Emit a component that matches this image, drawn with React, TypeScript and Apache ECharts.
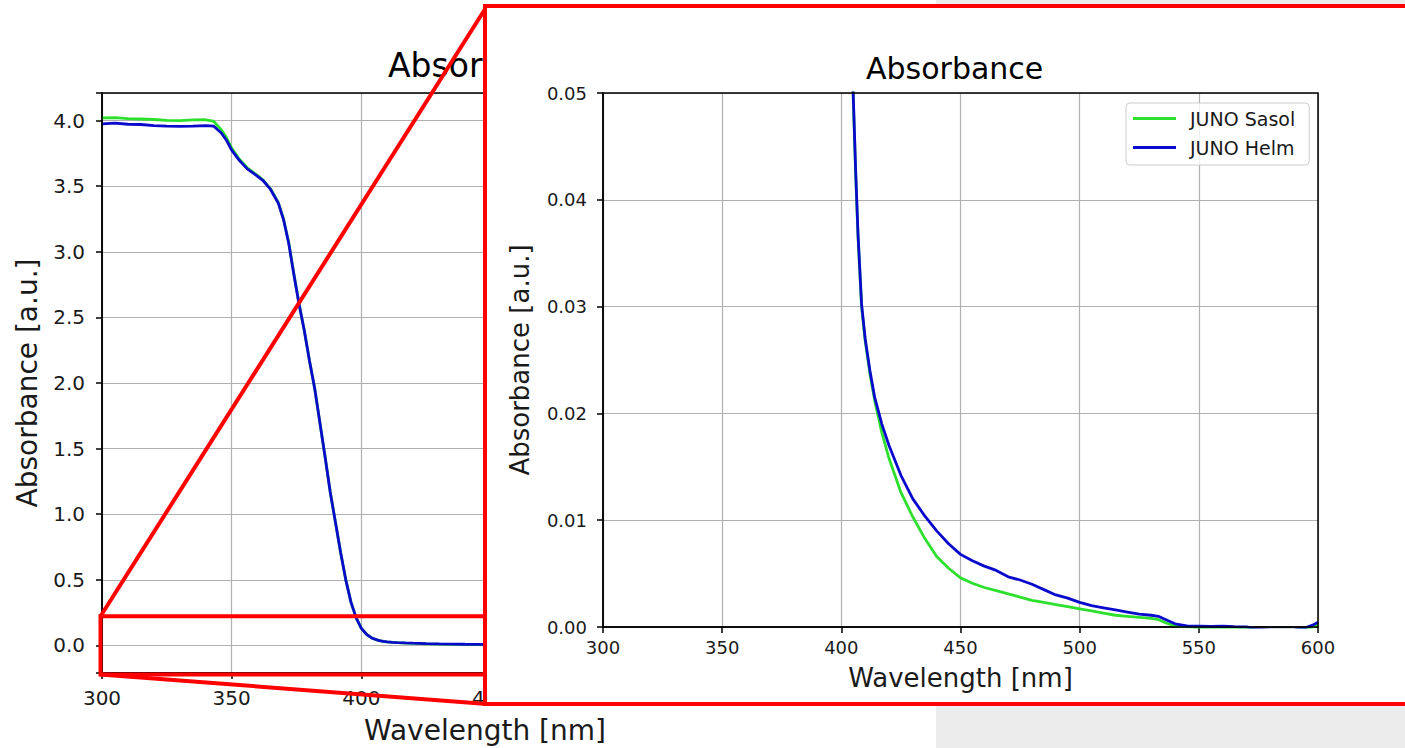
import React, { useEffect, useRef } from 'react';
import * as echarts from 'echarts';

// Wavelength grid [nm]
const wavelengths = [
  300, 305, 310, 315, 320, 325, 330, 335, 340, 343, 346, 348, 350, 353, 356, 359, 362, 365, 368, 370,
  372, 374, 376, 378, 380, 382, 384, 386, 388, 390, 392, 394, 396, 398, 400, 402, 404, 405, 406, 407,
  408.5, 410, 412, 414, 417, 420, 425, 430, 435, 440, 445, 450, 455, 460, 465, 470, 475, 480, 485, 490,
  495, 500, 505, 510, 515, 520, 525, 530, 533, 536, 540, 545, 550, 555, 560, 565, 570, 575, 580, 590,
  595, 598, 600,
];

// Absorbance [a.u.] - JUNO Sasol
const sasol = [
  4.02, 4.022, 4.015, 4.012, 4.008, 4.002, 4.0, 4.005, 4.006, 3.995, 3.93, 3.87, 3.79, 3.705, 3.64, 3.595, 3.55, 3.48, 3.375, 3.25,
  3.07, 2.83, 2.6, 2.4, 2.17, 1.96, 1.7, 1.44, 1.17, 0.94, 0.71, 0.5, 0.33, 0.21, 0.13, 0.085, 0.057, 0.0495, 0.0425, 0.0365,
  0.03, 0.0268, 0.0237, 0.0212, 0.0182, 0.0158, 0.0126, 0.0103, 0.0083, 0.0066, 0.0055, 0.0046, 0.0041, 0.0037, 0.0034, 0.0031, 0.0028, 0.0025, 0.0023, 0.0021,
  0.0019, 0.0017, 0.0015, 0.0013, 0.0011, 0.001, 0.0009, 0.0008, 0.0007, 0.0004, 0.0001, 0.00002, -0.00005, -0.0001, -0.0001, -0.0001, -0.0002, -0.0003, -0.0003, -0.0003,
  -0.0002, 0.0, 0.0002,
];

// Absorbance [a.u.] - JUNO Helm
const helm = [
  3.975, 3.98, 3.972, 3.97, 3.962, 3.958, 3.956, 3.958, 3.962, 3.958, 3.905, 3.85, 3.775, 3.695, 3.632, 3.589, 3.545, 3.475, 3.37, 3.245,
  3.065, 2.825, 2.6, 2.4, 2.17, 1.96, 1.7, 1.44, 1.17, 0.94, 0.71, 0.5, 0.33, 0.21, 0.13, 0.085, 0.057, 0.0498, 0.0428, 0.0368,
  0.0302, 0.027, 0.024, 0.0215, 0.019, 0.017, 0.0142, 0.012, 0.0104, 0.009, 0.0078, 0.0068, 0.0062, 0.0057, 0.0053, 0.0047, 0.0044, 0.004, 0.0035, 0.003,
  0.0027, 0.0023, 0.002, 0.0018, 0.0016, 0.0014, 0.0012, 0.0011, 0.001, 0.0007, 0.0003, 0.0001, 0.00008, 0.00005, 0.00007, 0.00004, 0.00002, -0.0002, -0.0003, -0.0003,
  -0.00005, 0.0002, 0.00045,
];

const seriesNames = ['JUNO Sasol', 'JUNO Helm'];
const titleText = 'Absorbance';
const xName = 'Wavelength [nm]';
const yName = 'Absorbance [a.u.]';

const FONT = 'DejaVu Sans';
const GREEN = '#2ee02e';
const BLUE = '#0a0acd';
const GRIDC = '#b0b0b0';
const TXT = '#1a1a1a';

export default function App() {
  const ref = useRef<HTMLDivElement>(null);

  useEffect(() => {
    if (!ref.current) return;
    const chart = echarts.init(ref.current, null, { renderer: 'svg' });
    const sasolPts = wavelengths.map((w, i) => [w, sasol[i]]);
    const helmPts = wavelengths.map((w, i) => [w, helm[i]]);

    const axisCommon = (z: number) => ({
      z,
      axisLine: { show: true, onZero: false, lineStyle: { color: '#000', width: 1.5 } },
      axisTick: { show: true, inside: false, length: 6, lineStyle: { color: '#000', width: 1.5 } },
      splitLine: { show: true, lineStyle: { color: GRIDC, width: 1.2 } },
    });

    chart.setOption({
      animation: false,
      backgroundColor: '#ffffff',
      title: [
        {
          text: titleText,
          left: 388,
          top: 49,
          padding: 0,
          z: 5,
          textStyle: { fontSize: 33, fontWeight: 'normal', fontFamily: FONT, color: '#000' },
        },
        {
          text: titleText,
          left: 866,
          top: 53,
          padding: 0,
          z: 12,
          textStyle: { fontSize: 30, fontWeight: 'normal', fontFamily: FONT, color: '#000' },
        },
      ],
      legend: {
        data: seriesNames,
        orient: 'vertical',
        left: 1126,
        top: 103,
        padding: [6, 14, 8, 7],
        itemWidth: 43,
        itemHeight: 3,
        itemGap: 10,
        icon: 'rect',
        backgroundColor: 'rgba(255,255,255,0.8)',
        borderColor: '#cccccc',
        borderWidth: 1,
        borderRadius: 4,
        z: 14,
        textStyle: { fontSize: 19, fontFamily: FONT, color: TXT, padding: [0, 0, 0, 9] },
      },
      grid: [
        {
          left: 102, top: 93, width: 778, height: 580,
          show: true, borderColor: '#000', borderWidth: 1.5, backgroundColor: 'transparent',
          z: 3, outerBoundsMode: 'none', containLabel: false,
        },
        {
          left: 603, top: 93, width: 715, height: 534,
          show: true, borderColor: '#000', borderWidth: 1.5, backgroundColor: 'transparent',
          z: 13, outerBoundsMode: 'none', containLabel: false,
        },
      ],
      xAxis: [
        {
          ...axisCommon(1),
          gridIndex: 0, type: 'value', min: 300, max: 600, interval: 50,
          axisLabel: {
            fontSize: 20, margin: 15, color: TXT, fontFamily: FONT,
            // labels beyond 450 nm lie under the inset
            formatter: (v: number) => (v <= 450 ? String(v) : ''),
          },
          name: xName, nameLocation: 'middle', nameGap: 43,
          nameTextStyle: { fontSize: 28, fontFamily: FONT, color: TXT, padding: [0, 12, 0, 0] },
        },
        {
          ...axisCommon(11),
          gridIndex: 1, type: 'value', min: 300, max: 600, interval: 50,
          axisLabel: { fontSize: 18, margin: 11, color: TXT, fontFamily: FONT },
          name: xName, nameLocation: 'middle', nameGap: 38,
          nameTextStyle: { fontSize: 26, fontFamily: FONT, color: TXT },
        },
      ],
      yAxis: [
        {
          ...axisCommon(1),
          gridIndex: 0, type: 'value', min: -0.21, max: 4.21, splitNumber: 9,
          axisLabel: {
            fontSize: 20, margin: 17, color: TXT, fontFamily: FONT,
            formatter: (v: number) => (Math.abs(v * 2 - Math.round(v * 2)) < 1e-6 ? v.toFixed(1) : ''),
          },
          name: yName, nameLocation: 'middle', nameGap: 61, nameRotate: 90,
          nameTextStyle: { fontSize: 28, fontFamily: FONT, color: TXT },
        },
        {
          ...axisCommon(11),
          gridIndex: 1, type: 'value', min: 0, max: 0.05, interval: 0.01,
          axisLabel: {
            fontSize: 18, margin: 16, color: TXT, fontFamily: FONT,
            formatter: (v: number) => v.toFixed(2),
          },
          name: yName, nameLocation: 'middle', nameGap: 70, nameRotate: 90,
          nameTextStyle: { fontSize: 26, fontFamily: FONT, color: TXT },
        },
      ],
      series: [
        {
          type: 'line', name: seriesNames[0], xAxisIndex: 0, yAxisIndex: 0, data: sasolPts,
          showSymbol: false, symbol: 'none', clip: true, z: 2,
          lineStyle: { color: GREEN, width: 2.8 }, itemStyle: { color: GREEN },
        },
        {
          type: 'line', name: seriesNames[1], xAxisIndex: 0, yAxisIndex: 0, data: helmPts,
          showSymbol: false, symbol: 'none', clip: true, z: 2,
          lineStyle: { color: BLUE, width: 2.8 }, itemStyle: { color: BLUE },
        },
        {
          type: 'line', name: seriesNames[0], xAxisIndex: 1, yAxisIndex: 1, data: sasolPts,
          showSymbol: false, symbol: 'none', clip: true, z: 12,
          lineStyle: { color: GREEN, width: 2.8 }, itemStyle: { color: GREEN },
        },
        {
          type: 'line', name: seriesNames[1], xAxisIndex: 1, yAxisIndex: 1, data: helmPts,
          showSymbol: false, symbol: 'none', clip: true, z: 12,
          lineStyle: { color: BLUE, width: 2.8 }, itemStyle: { color: BLUE },
        },
      ],
      graphic: [
        { type: 'rect', z: 8, silent: true, shape: { x: 936, y: 0, width: 469, height: 748 }, style: { fill: '#ececec' } },
        { type: 'line', z: 10, silent: true, shape: { x1: 100.5, y1: 616.3, x2: 487, y2: 6 }, style: { stroke: '#ff0000', lineWidth: 4 } },
        { type: 'line', z: 10, silent: true, shape: { x1: 100.5, y1: 674.5, x2: 487, y2: 704 }, style: { stroke: '#ff0000', lineWidth: 4 } },
        { type: 'rect', z: 10, silent: true, shape: { x: 100.5, y: 616.3, width: 400, height: 58.2 }, style: { fill: 'none', stroke: '#ff0000', lineWidth: 4 } },
        { type: 'rect', z: 10, silent: true, shape: { x: 485, y: 6, width: 1000, height: 698 }, style: { fill: '#ffffff', stroke: '#ff0000', lineWidth: 4 } },
      ],
    });

    return () => chart.dispose();
  }, []);

  return (
    <div
      ref={ref}
      style={{ position: 'fixed', left: 0, top: 0, width: 1405, height: 748, background: '#ffffff' }}
    />
  );
}
